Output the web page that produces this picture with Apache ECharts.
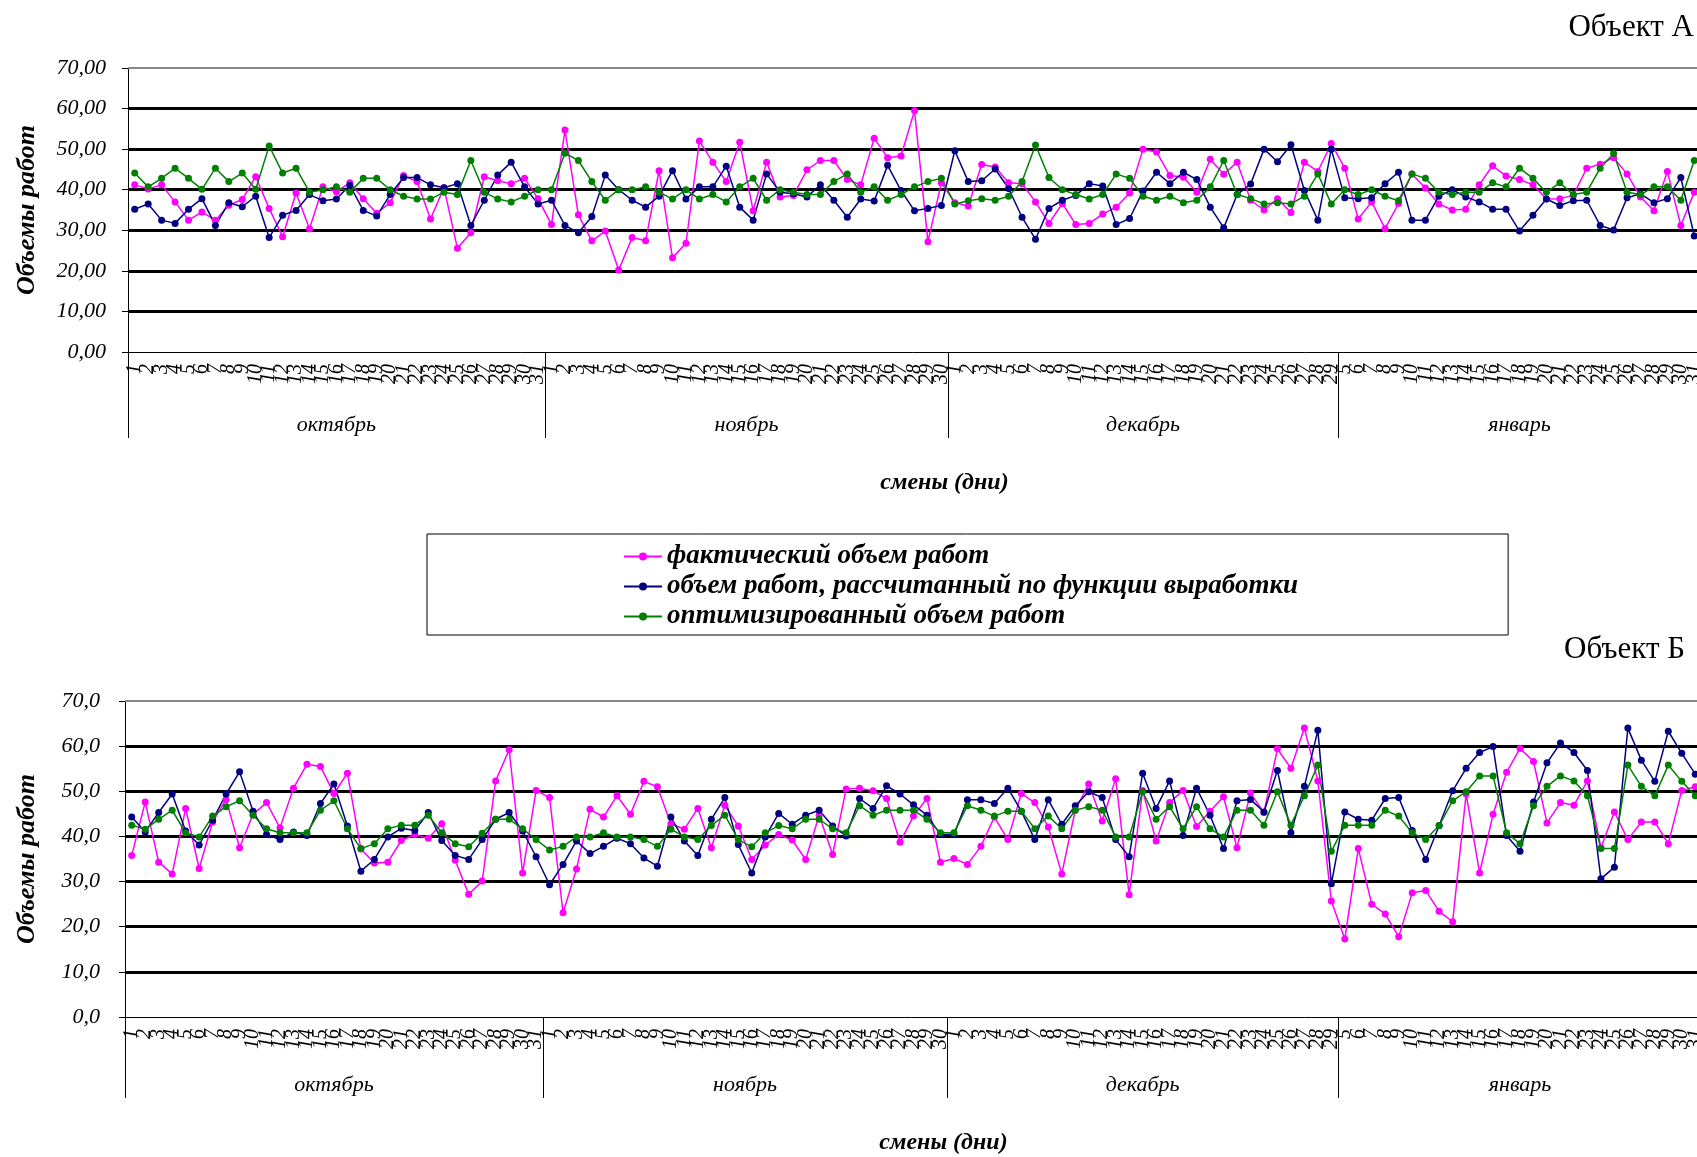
<!DOCTYPE html>
<html>
<head>
<meta charset="utf-8">
<script src="https://cdn.jsdelivr.net/npm/echarts@6/dist/echarts.min.js"></script>
<style>
  html, body { margin: 0; padding: 0; background: #fff; }
  #main { width: 1697px; height: 1157px; }
</style>
</head>
<body>
<div id="main"></div>
<script>
// shift days of each month (axis labels)
const octDays = [1,2,3,4,5,6,7,8,9,10,11,12,13,14,15,16,17,18,19,20,21,22,23,24,25,26,27,28,29,30,31];
const novDays = [1,2,3,4,5,6,7,8,9,10,11,12,13,14,15,16,17,18,19,20,21,22,23,24,25,26,27,28,29,30];
const decDays = [1,2,3,4,5,6,7,8,9,10,11,12,13,14,15,16,17,18,19,20,21,22,23,24,25,26,27,28,29];
const janDays = [5,6,7,8,9,10,11,12,13,14,15,16,17,18,19,20,21,22,23,24,25,26,27,28,29,30,31];
const months = ['октябрь', 'ноябрь', 'декабрь', 'январь'];

const seriesNames = [
  'фактический объем работ',
  'объем работ, рассчитанный по функции выработки',
  'оптимизированный объем работ'
];

// Объект А
const factA = [
  41.2, 40.2, 41.2, 37.0, 32.5, 34.5, 32.5, 36.2, 37.6, 43.2, 35.4, 28.4, 39.2, 30.4, 40.7, 39.5, 41.7, 37.8, 34.2, 36.8, 43.5, 42.0, 32.8, 40.5, 25.6, 29.4, 43.2, 42.2, 41.5, 42.8, 37.8,
  31.4, 54.7, 33.8, 27.4, 29.8, 20.2, 28.2, 27.4, 44.7, 23.2, 26.8, 52.0, 46.8, 42.0, 51.7, 34.8, 46.8, 38.2, 38.6, 44.9, 47.2, 47.2, 42.5, 41.2, 52.7, 47.9, 48.3, 59.5, 27.2, 41.7,
  36.8, 36.0, 46.2, 45.6, 41.7, 41.5, 37.0, 31.7, 36.6, 31.4, 31.7, 34.0, 35.7, 39.2, 50.0, 49.3, 43.5, 43.1, 39.4, 47.5, 43.8, 46.8, 37.4, 35.0, 37.8, 34.4, 46.8, 44.5, 51.4,
  45.3, 32.8, 37.0, 30.4, 36.6, 43.9, 40.4, 36.5, 35.0, 35.2, 41.2, 45.9, 43.4, 42.5, 41.2, 37.7, 37.8, 38.6, 45.3, 46.3, 47.9, 43.9, 38.2, 34.8, 44.5, 31.2, 39.4
];
const calcA = [
  35.2, 36.5, 32.5, 31.7, 35.2, 37.8, 31.2, 36.8, 35.8, 38.4, 28.2, 33.7, 34.9, 38.8, 37.3, 37.7, 41.1, 34.9, 33.5, 38.8, 43.0, 43.0, 41.2, 40.5, 41.5, 31.2, 37.4, 43.6, 46.8, 40.7, 36.5,
  37.4, 31.2, 29.4, 33.4, 43.6, 40.0, 37.4, 35.7, 38.4, 44.7, 37.7, 40.7, 40.7, 45.8, 35.7, 32.5, 43.9, 39.4, 39.0, 38.2, 41.2, 37.4, 33.2, 37.7, 37.2, 46.0, 39.8, 34.8, 35.4, 36.1,
  49.6, 42.0, 42.2, 45.1, 40.3, 33.2, 27.8, 35.4, 37.4, 38.6, 41.5, 40.9, 31.4, 32.9, 39.7, 44.3, 41.5, 44.3, 42.5, 35.7, 30.6, 38.8, 41.4, 50.0, 46.9, 51.1, 39.8, 32.5, 50.0,
  38.0, 37.8, 38.0, 41.5, 44.3, 32.5, 32.5, 38.4, 40.0, 38.2, 37.0, 35.2, 35.2, 29.8, 33.7, 37.7, 36.1, 37.3, 37.4, 31.2, 30.1, 38.0, 39.0, 36.8, 37.8, 43.0, 28.6
];
const optA = [
  44.1, 40.7, 42.8, 45.3, 42.8, 40.1, 45.3, 42.0, 44.1, 40.1, 50.8, 44.1, 45.3, 39.4, 40.0, 40.7, 39.4, 42.8, 42.8, 40.0, 38.4, 37.7, 37.7, 39.4, 38.8, 47.2, 39.4, 37.7, 37.0, 38.4, 40.0,
  40.0, 49.0, 47.2, 42.0, 37.4, 40.0, 40.0, 40.7, 39.4, 37.7, 40.0, 37.7, 38.8, 37.0, 40.7, 42.8, 37.4, 40.0, 39.4, 38.8, 38.8, 42.0, 43.9, 39.4, 40.7, 37.4, 38.8, 40.7, 42.0, 42.8,
  36.5, 37.3, 37.8, 37.4, 38.4, 42.0, 51.0, 43.0, 40.0, 38.8, 37.7, 38.8, 43.9, 42.8, 38.4, 37.4, 38.4, 36.8, 37.4, 40.7, 47.2, 38.8, 37.8, 36.5, 36.8, 36.5, 38.4, 43.9, 36.5,
  40.0, 38.8, 40.0, 38.4, 37.3, 43.9, 42.8, 39.4, 38.8, 39.4, 39.4, 41.7, 40.7, 45.3, 42.8, 39.4, 41.7, 38.8, 39.4, 45.3, 48.9, 39.4, 38.8, 40.7, 40.7, 37.4, 47.2
];

// Объект Б
const factB = [
  35.8, 47.6, 34.3, 31.7, 46.2, 32.9, 43.2, 48.2, 37.5, 44.9, 47.5, 41.9, 50.7, 56.0, 55.5, 49.5, 54.0, 37.2, 34.1, 34.3, 39.1, 40.4, 39.6, 42.8, 34.7, 27.2, 30.1, 52.3, 59.2, 31.9, 50.2,
  48.6, 23.1, 32.8, 46.0, 44.3, 49.0, 44.9, 52.2, 51.0, 42.8, 41.6, 46.2, 37.5, 46.9, 42.3, 34.9, 38.1, 40.4, 39.2, 34.9, 44.7, 36.0, 50.5, 50.7, 50.1, 48.4, 38.7, 44.5, 48.4, 34.3,
  35.1, 33.8, 37.8, 44.3, 39.3, 49.5, 47.5, 42.1, 31.7, 45.8, 51.6, 43.4, 52.8, 27.1, 50.2, 39.0, 47.5, 50.2, 42.2, 45.6, 48.8, 37.5, 49.6, 45.3, 59.4, 55.1, 64.0, 52.3, 25.7,
  17.3, 37.3, 25.0, 22.8, 17.8, 27.5, 28.0, 23.4, 21.1, 49.4, 31.9, 44.9, 54.2, 59.5, 56.6, 43.0, 47.5, 46.9, 52.3, 37.5, 45.4, 39.3, 43.2, 43.2, 38.4, 50.2, 51.0
];
const calcB = [
  44.3, 41.0, 45.3, 49.4, 41.2, 38.1, 43.6, 49.4, 54.3, 45.6, 40.4, 39.3, 41.0, 40.2, 47.3, 51.6, 42.3, 32.3, 34.9, 39.9, 41.8, 41.3, 45.3, 39.1, 35.8, 34.9, 39.3, 43.8, 45.3, 41.2, 35.5,
  29.3, 33.8, 39.0, 36.2, 37.8, 39.6, 38.4, 35.2, 33.4, 44.3, 39.0, 35.8, 43.8, 48.6, 38.2, 31.9, 39.9, 45.1, 42.7, 44.7, 45.8, 42.3, 40.1, 48.4, 46.2, 51.2, 49.4, 47.0, 44.7, 40.4,
  40.4, 48.1, 48.1, 47.3, 50.7, 45.6, 39.3, 48.1, 42.7, 46.8, 49.9, 48.6, 39.3, 35.5, 54.0, 46.2, 52.3, 40.2, 50.7, 44.7, 37.3, 47.9, 48.2, 45.4, 54.6, 40.8, 51.1, 63.5, 29.5,
  45.4, 43.8, 43.6, 48.4, 48.6, 41.3, 34.9, 42.4, 50.1, 55.1, 58.6, 59.9, 40.2, 36.7, 47.6, 56.3, 60.7, 58.6, 54.6, 30.6, 33.2, 64.0, 56.9, 52.2, 63.3, 58.4, 53.8
];
const optB = [
  42.5, 41.6, 43.8, 45.8, 40.8, 39.9, 44.5, 46.6, 47.9, 44.7, 41.7, 40.8, 40.8, 40.8, 45.8, 47.9, 41.7, 37.3, 38.4, 41.7, 42.5, 42.5, 44.7, 40.8, 38.4, 37.7, 40.7, 43.8, 43.8, 41.7, 39.3,
  37.0, 37.8, 39.9, 39.9, 40.8, 39.9, 39.9, 39.3, 37.8, 41.6, 39.9, 39.3, 42.4, 44.7, 39.3, 37.7, 40.8, 42.4, 41.7, 43.8, 43.8, 41.7, 40.8, 46.8, 44.7, 45.8, 45.8, 45.8, 43.8, 40.8,
  40.8, 46.8, 45.8, 44.5, 45.6, 45.6, 41.7, 44.5, 41.7, 45.8, 46.6, 45.8, 39.9, 39.9, 49.9, 43.8, 46.6, 41.7, 46.6, 41.7, 39.9, 45.8, 45.8, 42.5, 49.9, 42.5, 49.0, 55.8, 36.7,
  42.5, 42.5, 42.5, 45.8, 44.5, 40.8, 39.3, 42.4, 47.9, 49.9, 53.4, 53.4, 40.8, 38.4, 46.8, 51.1, 53.4, 52.3, 49.0, 37.3, 37.3, 55.8, 51.1, 49.0, 55.8, 52.2, 49.0
];

const FONT = "'Liberation Serif', 'Times New Roman', serif";
const COLORS = ['#FF00FF', '#000080', '#008000'];

const monthDays = [octDays, novDays, decDays, janDays];
const days = [].concat(...monthDays).map(String);
// month group borders and centres in category units
const bounds = [0];
monthDays.forEach(d => bounds.push(bounds[bounds.length - 1] + d.length));
const centers = months.map((m, i) => (bounds[i] + bounds[i + 1]) / 2);

const panels = [
  { title: 'Объект А', data: [factA, calcA, optA], digits: 2, left: 128, top: 68, height: 284, width: 1573,
    titleTop: 12, titleRight: 3, labelMargin: 22, yNameGap: 88, monthMargin: 62, monthTick: 86, xNameGap: 119 },
  { title: 'Объект Б', data: [factB, calcB, optB], digits: 1, left: 125, top: 701, height: 316, width: 1577,
    titleTop: 634, titleRight: 12, labelMargin: 25, yNameGap: 85, monthMargin: 57, monthTick: 81, xNameGap: 114 }
];

let option = {
  animation: false,
  backgroundColor: '#fff',
  title: panels.map(p => ({
    text: p.title, right: p.titleRight, top: p.titleTop, padding: 0,
    textStyle: { fontFamily: FONT, fontSize: 31, fontWeight: 'normal', color: '#000' }
  })),
  legend: {
    data: seriesNames,
    orient: 'vertical',
    left: 427, top: 534,
    padding: [9, 210, 5, 196],
    borderColor: '#000', borderWidth: 1,
    itemGap: 3, itemWidth: 38, itemHeight: 10,
    textStyle: { fontFamily: FONT, fontSize: 27, fontStyle: 'italic', fontWeight: 'bold', color: '#000' }
  },
  grid: panels.map(p => ({ left: p.left, top: p.top, height: p.height, width: p.width, outerBoundsMode: 'none' })),
  xAxis: [],
  yAxis: [],
  series: []
};

panels.forEach((p, k) => {
  option.xAxis.push({
    type: 'category', gridIndex: k, data: days, boundaryGap: true, position: 'bottom',
    axisLine: { lineStyle: { color: '#000', width: 1 } },
    axisTick: { interval: 0, length: 35, lineStyle: { color: '#000' } },
    axisLabel: { interval: 0, rotate: 90, margin: 12, fontFamily: FONT, fontStyle: 'italic', fontSize: 20, color: '#000' },
    name: 'смены (дни)', nameLocation: 'middle', nameGap: p.xNameGap, nameMoveOverlap: false,
    nameTextStyle: { fontFamily: FONT, fontSize: 24, fontStyle: 'italic', fontWeight: 'bold', color: '#000', padding: [0, 0, 0, 60] }
  });
  option.xAxis.push({
    type: 'value', gridIndex: k, min: 0, max: bounds[bounds.length - 1], position: 'bottom', offset: 0,
    axisLine: { show: false },
    splitLine: { show: false },
    axisTick: { show: true, customValues: bounds, length: p.monthTick, lineStyle: { color: '#000' } },
    axisLabel: {
      customValues: centers, margin: p.monthMargin, fontFamily: FONT, fontStyle: 'italic', fontSize: 22, color: '#000',
      formatter: v => months[centers.indexOf(v)]
    }
  });
  option.yAxis.push({
    type: 'value', gridIndex: k, min: 0, max: 70, interval: 10,
    axisLine: { show: true, lineStyle: { color: '#000', width: 1 } },
    axisTick: { show: true, length: 6, lineStyle: { color: '#000' } },
    axisLabel: {
      margin: p.labelMargin, fontFamily: FONT, fontStyle: 'italic', fontSize: 22, color: '#000',
      formatter: v => v.toFixed(p.digits).replace('.', ',')
    },
    splitLine: { show: true, showMinLine: false, showMaxLine: false, lineStyle: { color: '#000', width: 3 } },
    name: 'Объемы работ', nameLocation: 'middle', nameRotate: 90, nameGap: p.yNameGap, nameMoveOverlap: false,
    nameTextStyle: { fontFamily: FONT, fontSize: 26, fontStyle: 'italic', fontWeight: 'bold', color: '#000' }
  });
  p.data.forEach((vals, j) => {
    const s = {
      name: seriesNames[j], type: 'line', xAxisIndex: 2 * k, yAxisIndex: k,
      data: vals, symbol: 'circle', symbolSize: 7,
      itemStyle: { color: COLORS[j] },
      lineStyle: { color: COLORS[j], width: 1.5 }
    };
    if (j === 0) {
      s.markLine = {
        silent: true, symbol: ['none', 'none'], label: { show: false },
        lineStyle: { color: '#888', width: 2, type: 'solid' },
        data: [{ yAxis: 70 }]
      };
    }
    option.series.push(s);
  });
});

var chartDom = document.getElementById('main');
var myChart = echarts.init(chartDom);
option && myChart.setOption(option);
</script>
</body>
</html>
